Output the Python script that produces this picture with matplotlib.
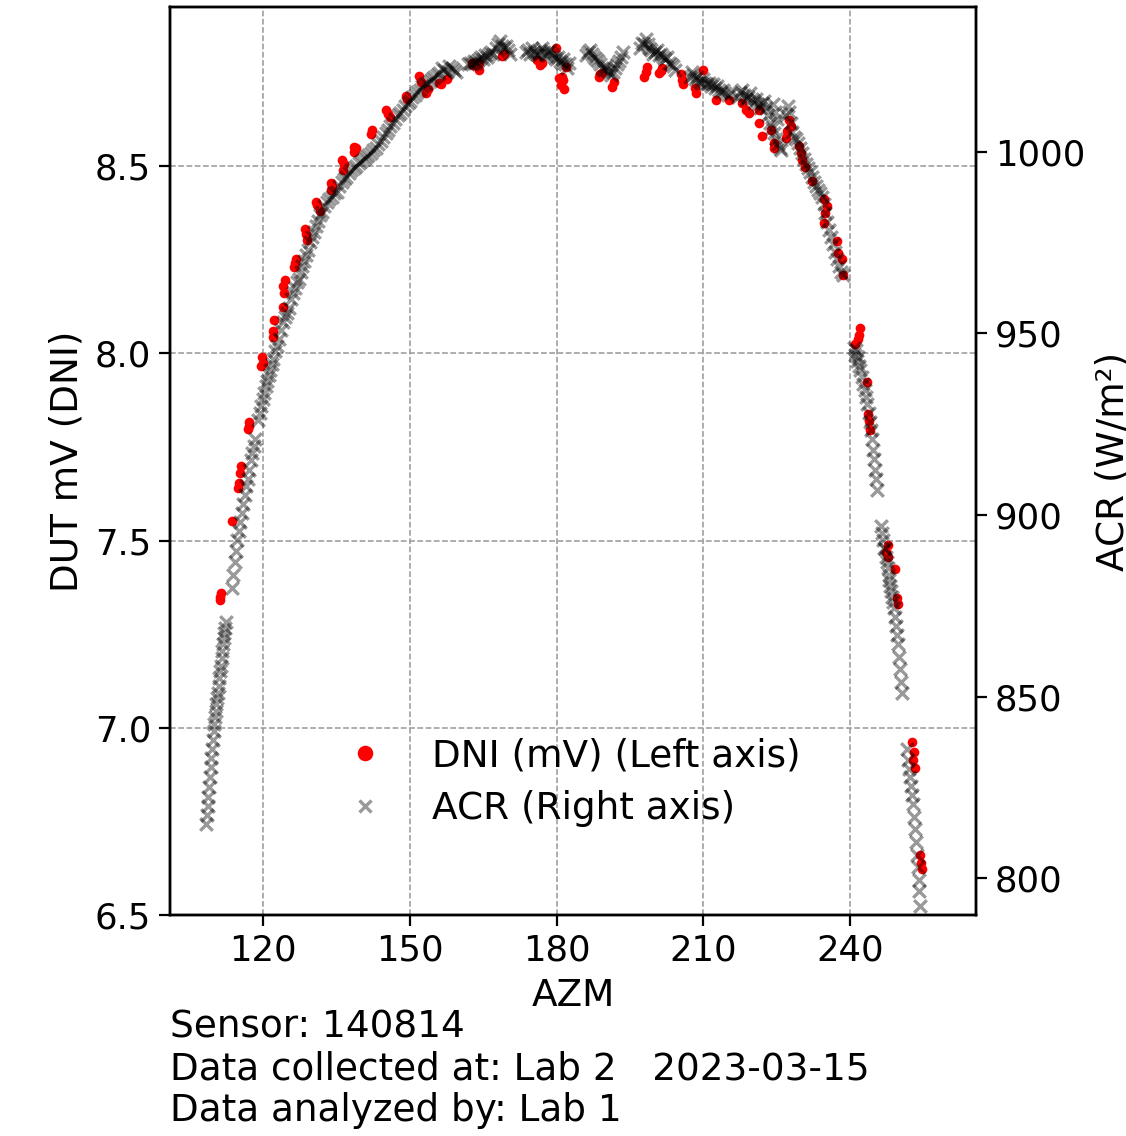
import matplotlib
matplotlib.use("Agg")
import matplotlib.pyplot as plt
from matplotlib.lines import Line2D

# ---------------- data ----------------
acr_azm = [
    108.30, 108.45, 108.60, 108.75, 108.90, 109.05, 109.20, 109.35, 109.50, 109.65,
    109.80, 109.95, 110.10, 110.25, 110.40, 110.55, 110.70, 110.85, 111.00, 111.15,
    111.30, 111.45, 111.60, 111.75, 111.90, 112.05, 112.20, 112.35,
    113.5, 113.8, 114.1, 114.4, 114.7, 115.0, 115.3, 115.6, 115.9, 116.2,
    116.5, 116.8, 117.1, 117.4, 117.7, 118.0, 118.3,
    119.0, 119.3, 119.6, 119.9, 120.2, 120.5, 120.8, 121.1, 121.4, 121.7,
    122.0, 122.4, 122.8, 123.2, 123.6, 124.0, 124.4, 124.8, 125.2, 125.6,
    126.0, 126.4, 126.8, 127.2, 127.6, 128.0, 128.4, 128.8, 129.2, 129.6,
    130.0, 130.4, 130.8, 131.2, 131.6, 132.0, 132.5, 133.0, 133.5, 134.0,
    134.5, 135.0, 135.5, 136.0, 136.5, 137.0, 137.5, 138.0, 138.5, 139.0,
    139.5, 140.0, 140.5, 141.0, 141.5, 142.0, 142.5, 143.0, 143.5, 144.0,
    144.5, 145.0, 145.5, 146.0, 146.5, 147.0, 147.5, 148.0, 148.5, 149.0,
    149.5, 150.0, 150.5, 151.0, 151.5, 152.0, 152.5, 153.0, 153.5, 154.0,
    154.5, 155.0, 155.5, 156.0, 156.5, 157.0, 157.5, 158.0, 158.5, 159.0,
    159.5, 161.8, 162.2, 162.6, 163.0, 163.4, 163.8, 164.2, 164.6, 165.0,
    165.4, 165.8, 166.2, 166.6, 167.0, 167.6, 168.0, 168.4, 168.8, 169.2,
    169.6, 170.0, 170.4, 173.8, 174.2, 174.6, 175.0, 175.4, 175.8, 176.2,
    176.6, 177.0, 177.4, 177.8, 178.2, 178.6, 179.0, 179.4, 179.8, 180.2,
    180.6, 181.0, 181.4, 181.8, 182.2, 182.6, 186.0, 186.4, 186.8, 187.2,
    187.6, 188.0, 188.4, 188.8, 189.2, 189.6, 190.0, 190.4, 190.8, 191.2,
    191.6, 192.0, 192.4, 192.8, 193.2, 193.6, 197.0, 197.4, 197.8, 198.2,
    198.6, 199.0, 199.4, 199.8, 200.2, 200.6, 201.0, 201.4, 201.8, 202.2,
    202.6, 203.0, 203.4, 203.8, 204.2, 207.2, 207.6, 208.0, 208.4, 208.8,
    209.2, 209.6, 210.0, 210.4, 210.8, 211.2, 211.6, 212.0, 212.4, 212.8,
    213.2, 213.6, 214.0, 214.4, 215.0, 215.6, 217.2, 217.6, 218.0, 218.4,
    218.8, 219.2, 219.6, 220.0, 220.4, 220.8, 221.2, 221.6, 222.0, 222.4,
    222.8, 223.2, 223.6, 224.0, 224.4, 224.8, 225.2, 225.6, 226.0, 224.2,
    224.6, 225.0, 227.0, 227.3, 227.6, 227.9, 228.2, 228.6, 229.0, 229.4,
    229.8, 230.2, 230.6, 231.0, 231.4, 231.8, 232.2, 232.6, 233.0, 233.4,
    233.8, 234.2, 234.6, 235.0, 235.4, 235.8, 236.2, 236.6, 237.0, 237.4,
    237.8, 238.2, 238.5,
    240.9, 241.1, 241.3, 241.5, 241.7, 241.9, 242.1, 242.4, 242.7, 243.0,
    243.3, 243.6, 243.9, 244.1, 244.3, 244.5, 244.7, 244.9, 245.1, 245.3,
    245.5,
    246.3, 246.5, 246.7, 246.9, 247.1, 247.3, 247.5, 247.7, 247.9, 248.1,
    248.3, 248.5, 248.7, 248.9, 249.1, 249.3, 249.5, 249.7, 249.9, 250.1,
    250.3, 250.5, 250.7,
    251.7, 251.9, 252.1, 252.3, 252.5, 252.7, 252.9, 253.1, 253.3, 253.5,
    253.7, 253.9, 254.1, 254.2, 254.4,
]
acr_val = [
    815.0, 817.5, 820.0, 822.5, 825.0, 828.0, 830.5, 833.0, 835.5, 838.0,
    840.5, 842.5, 844.5, 846.0, 848.0, 849.5, 851.0, 853.0, 855.0, 857.0,
    858.5, 860.5, 862.5, 864.5, 866.0, 867.5, 869.0, 870.5,
    880.0, 883.5, 887.0, 890.0, 893.0, 895.5, 898.0, 900.5, 903.0, 905.5,
    908.0, 910.0, 912.5, 915.0, 917.0, 919.0, 921.0,
    926.0, 928.0, 930.0, 932.0, 933.5, 935.5, 937.0, 938.5, 940.0, 941.5,
    943.0, 945.0, 946.5, 948.5, 951.0, 953.0, 954.5, 955.5, 957.0, 959.5,
    961.0, 962.5, 964.0, 965.0, 967.0, 968.5, 970.0, 971.5, 973.0, 975.0,
    976.5, 978.0, 979.5, 981.0, 982.5, 983.5, 985.0, 986.0, 987.0, 987.5,
    988.5, 989.0, 990.5, 991.5, 992.5, 993.0, 994.0, 995.0, 995.5, 996.0,
    997.0, 997.5, 998.0, 998.5, 999.0, 999.5, 1000.5, 1001.0, 1002.0, 1003.0,
    1004.0, 1005.0, 1006.0, 1007.0, 1008.0, 1009.0, 1010.0, 1010.5, 1011.5, 1012.5,
    1013.5, 1014.0, 1015.0, 1015.5, 1016.5, 1017.0, 1018.0, 1018.5, 1019.0, 1019.5,
    1020.0, 1020.5, 1021.0, 1021.5, 1023.0, 1022.5, 1022.0, 1023.5, 1023.0, 1022.5,
    1022.0, 1024.0, 1024.5, 1024.0, 1025.0, 1024.5, 1025.0, 1025.5, 1026.0, 1025.5,
    1026.5, 1026.0, 1027.0, 1027.5, 1027.0, 1028.5, 1029.5, 1030.5, 1029.0, 1028.5,
    1029.0, 1028.0, 1027.0, 1027.5, 1028.0, 1027.0, 1028.5, 1027.5, 1027.0, 1026.5,
    1027.5, 1028.5, 1027.5, 1026.5, 1027.5, 1028.0, 1027.0, 1026.0, 1025.5, 1026.0,
    1025.0, 1024.5, 1025.5, 1024.0, 1023.0, 1024.5, 1026.5, 1027.5, 1028.0, 1027.0,
    1026.0, 1025.5, 1025.0, 1024.0, 1023.0, 1022.5, 1023.5, 1022.5, 1022.0, 1021.0,
    1022.0, 1023.0, 1024.0, 1025.0, 1026.0, 1027.5, 1028.5, 1030.0, 1029.5, 1031.0,
    1029.5, 1028.5, 1028.0, 1027.0, 1027.5, 1028.0, 1026.5, 1027.0, 1026.0, 1025.5,
    1026.0, 1024.5, 1024.0, 1023.5, 1022.5, 1020.5, 1022.0, 1021.0, 1020.0, 1020.5,
    1019.5, 1019.0, 1020.0, 1019.0, 1018.5, 1019.0, 1018.0, 1018.5, 1017.5, 1018.0,
    1017.0, 1016.5, 1017.0, 1016.0, 1015.5, 1016.0, 1015.0, 1016.5, 1017.0, 1015.5,
    1014.5, 1015.0, 1016.0, 1014.5, 1013.5, 1014.5, 1013.0, 1012.0, 1013.5, 1014.0,
    1012.0, 1010.0, 1008.0, 1006.5, 1005.0, 1003.5, 1002.0, 1001.0, 1000.5, 1013.0,
    1011.0, 1009.0, 1010.0, 1012.5, 1011.0, 1008.0, 1005.5, 1004.0, 1003.5, 1002.5,
    1001.0, 999.5, 998.0, 996.5, 995.5, 994.5, 993.0, 991.5, 990.5, 989.5,
    988.5, 987.5, 985.5, 983.0, 980.5, 978.5, 976.5, 974.5, 972.5, 970.5,
    968.5, 967.0, 966.0,
    946.0, 944.0, 945.5, 942.5, 943.5, 941.0, 940.0, 938.0, 936.0, 934.5,
    932.5, 930.5, 928.0, 925.5, 923.5, 921.0, 918.0, 915.5, 912.5, 910.0,
    907.0,
    897.0, 895.0, 893.0, 891.0, 890.5, 888.5, 887.0, 885.5, 883.5, 882.0,
    880.5, 879.0, 877.5, 876.0, 874.5, 872.0, 869.5, 867.0, 864.5, 861.0,
    857.5, 854.0, 851.0,
    835.5, 832.5, 830.0, 828.0, 825.5, 823.0, 820.5, 817.0, 813.5, 810.0,
    806.5, 803.0, 799.5, 796.5, 792.5,
]

dni_azm = [
    111.1, 111.2, 111.35, 113.6, 114.9, 115.1, 115.3, 115.5, 116.9, 117.0,
    117.1, 119.6, 119.7, 119.86, 121.9, 122.0, 122.1, 123.95, 124.1, 124.3,
    124.5, 126.2, 126.5, 126.6, 128.6, 128.8, 129.0, 130.8, 131.0, 131.5,
    133.9, 133.9, 134.1, 136.0, 136.2, 136.4, 138.6, 138.6, 138.9, 142.1,
    142.3, 145.1, 145.6, 146.0, 149.2, 149.4, 151.9, 152.3, 153.3, 153.6,
    156.0, 156.3, 157.5, 162.7, 162.8, 163.6, 164.2, 164.2, 168.9, 169.2,
    176.0, 176.5, 177.0, 179.9, 180.5, 180.9, 181.1, 181.3, 181.6, 181.9,
    188.7, 188.9, 189.3, 191.4, 191.8, 197.9, 198.2, 198.5, 201.0, 201.3,
    201.6, 205.4, 205.7, 205.9, 208.3, 208.6, 209.9, 212.6, 215.3, 218.0,
    218.7, 219.4, 221.5, 221.5, 222.1, 223.8, 224.5, 224.5, 226.9, 227.2,
    227.6, 228.0, 229.6, 230.0, 230.3, 230.9, 232.2, 234.7, 235.0, 235.4,
    234.7, 237.3, 237.6, 238.3, 238.6,
    241.0, 241.6, 241.8, 242.0, 243.5, 243.7, 243.9, 244.1, 247.4, 247.8,
    247.8, 249.2, 249.6, 249.8, 252.7, 252.9, 253.1, 253.3, 254.3, 254.5,
    254.7,
]
dni_val = [
    7.340, 7.350, 7.360, 7.553, 7.640, 7.653, 7.680, 7.699, 7.797, 7.805,
    7.816, 7.965, 7.990, 7.975, 8.045, 8.060, 8.090, 8.125, 8.179, 8.160,
    8.197, 8.230, 8.240, 8.251, 8.331, 8.320, 8.304, 8.405, 8.395, 8.379,
    8.456, 8.437, 8.446, 8.517, 8.491, 8.505, 8.539, 8.552, 8.548, 8.585,
    8.597, 8.651, 8.640, 8.630, 8.686, 8.678, 8.741, 8.725, 8.696, 8.705,
    8.722, 8.720, 8.732, 8.775, 8.770, 8.770, 8.776, 8.757, 8.793, 8.800,
    8.784, 8.771, 8.775, 8.815, 8.736, 8.717, 8.739, 8.730, 8.705, 8.766,
    8.739, 8.745, 8.749, 8.712, 8.725, 8.739, 8.752, 8.765, 8.749, 8.755,
    8.763, 8.745, 8.731, 8.720, 8.710, 8.696, 8.757, 8.677, 8.677, 8.669,
    8.651, 8.642, 8.651, 8.615, 8.580, 8.597, 8.562, 8.549, 8.575, 8.593,
    8.624, 8.606, 8.553, 8.535, 8.517, 8.499, 8.459, 8.411, 8.375, 8.393,
    8.349, 8.299, 8.268, 8.251, 8.210,
    8.024, 8.037, 8.050, 8.069, 7.923, 7.837, 7.820, 7.795, 7.470, 7.487,
    7.455, 7.423, 7.347, 7.331, 6.962, 6.914, 6.936, 6.893, 6.661, 6.640,
    6.624,
]

x_ticks = [120, 150, 180, 210, 240]
left_ticks = [6.5, 7.0, 7.5, 8.0, 8.5]
right_ticks = [800, 850, 900, 950, 1000]

info_lines = [
    "Sensor: 140814",
    "Data collected at: Lab 2   2023-03-15",
    "Data analyzed by: Lab 1",
]

# ---------------- figure ----------------
W, H, DPI = 1126, 1136, 160
fig = plt.figure(figsize=(W / DPI, H / DPI), dpi=DPI)
ax = fig.add_axes([170 / W, 1 - 915 / H, 806 / W, 908 / H])

TICK_FS = 16
LAB_FS = 16.8

ax.scatter(dni_azm, dni_val, s=19, c="red", marker="o", linewidths=0, zorder=2)
ax.set_xlim(100.9, 265.8)
ax.set_ylim(6.5, 8.925)
ax.set_xticks(x_ticks)
ax.set_yticks(left_ticks)
ax.set_yticklabels([f"{v:.1f}" for v in left_ticks])
ax.grid(True, linestyle="--", color="#999999", linewidth=0.7)
ax.set_axisbelow(True)
ax.set_xlabel("AZM", fontsize=LAB_FS)
ax.set_ylabel("DUT mV (DNI)", fontsize=LAB_FS)
ax.tick_params(labelsize=TICK_FS, length=5, width=1.0)
for sp in ax.spines.values():
    sp.set_linewidth(1.1)

ax2 = ax.twinx()
ax2.scatter(acr_azm, acr_val, s=32, c="black", alpha=0.4, marker="x", linewidths=1.5)
ax2.set_ylim(789.9, 1039.8)
ax2.set_yticks(right_ticks)
ax2.set_ylabel("ACR (W/m²)", fontsize=LAB_FS)
ax2.tick_params(labelsize=TICK_FS, length=5, width=1.0)
for sp in ax2.spines.values():
    sp.set_linewidth(1.1)

handles = [
    Line2D([], [], linestyle="", marker="o", color="red", markersize=7, markeredgewidth=0),
    Line2D([], [], linestyle="", marker="x", color="black", alpha=0.4, markersize=5.5, markeredgewidth=1.5),
]
ax2.legend(handles, ["DNI (mV) (Left axis)", "ACR (Right axis)"],
           loc="center", bbox_to_anchor=(564 / W, 1 - 782 / H),
           bbox_transform=fig.transFigure, frameon=False,
           fontsize=LAB_FS, labelspacing=0.42)

ys = [1037, 1079, 1121]
for line, yp in zip(info_lines, ys):
    fig.text(170 / W, 1 - yp / H, line, fontsize=LAB_FS, ha="left", va="baseline")

fig.savefig("out.png", dpi=DPI)
